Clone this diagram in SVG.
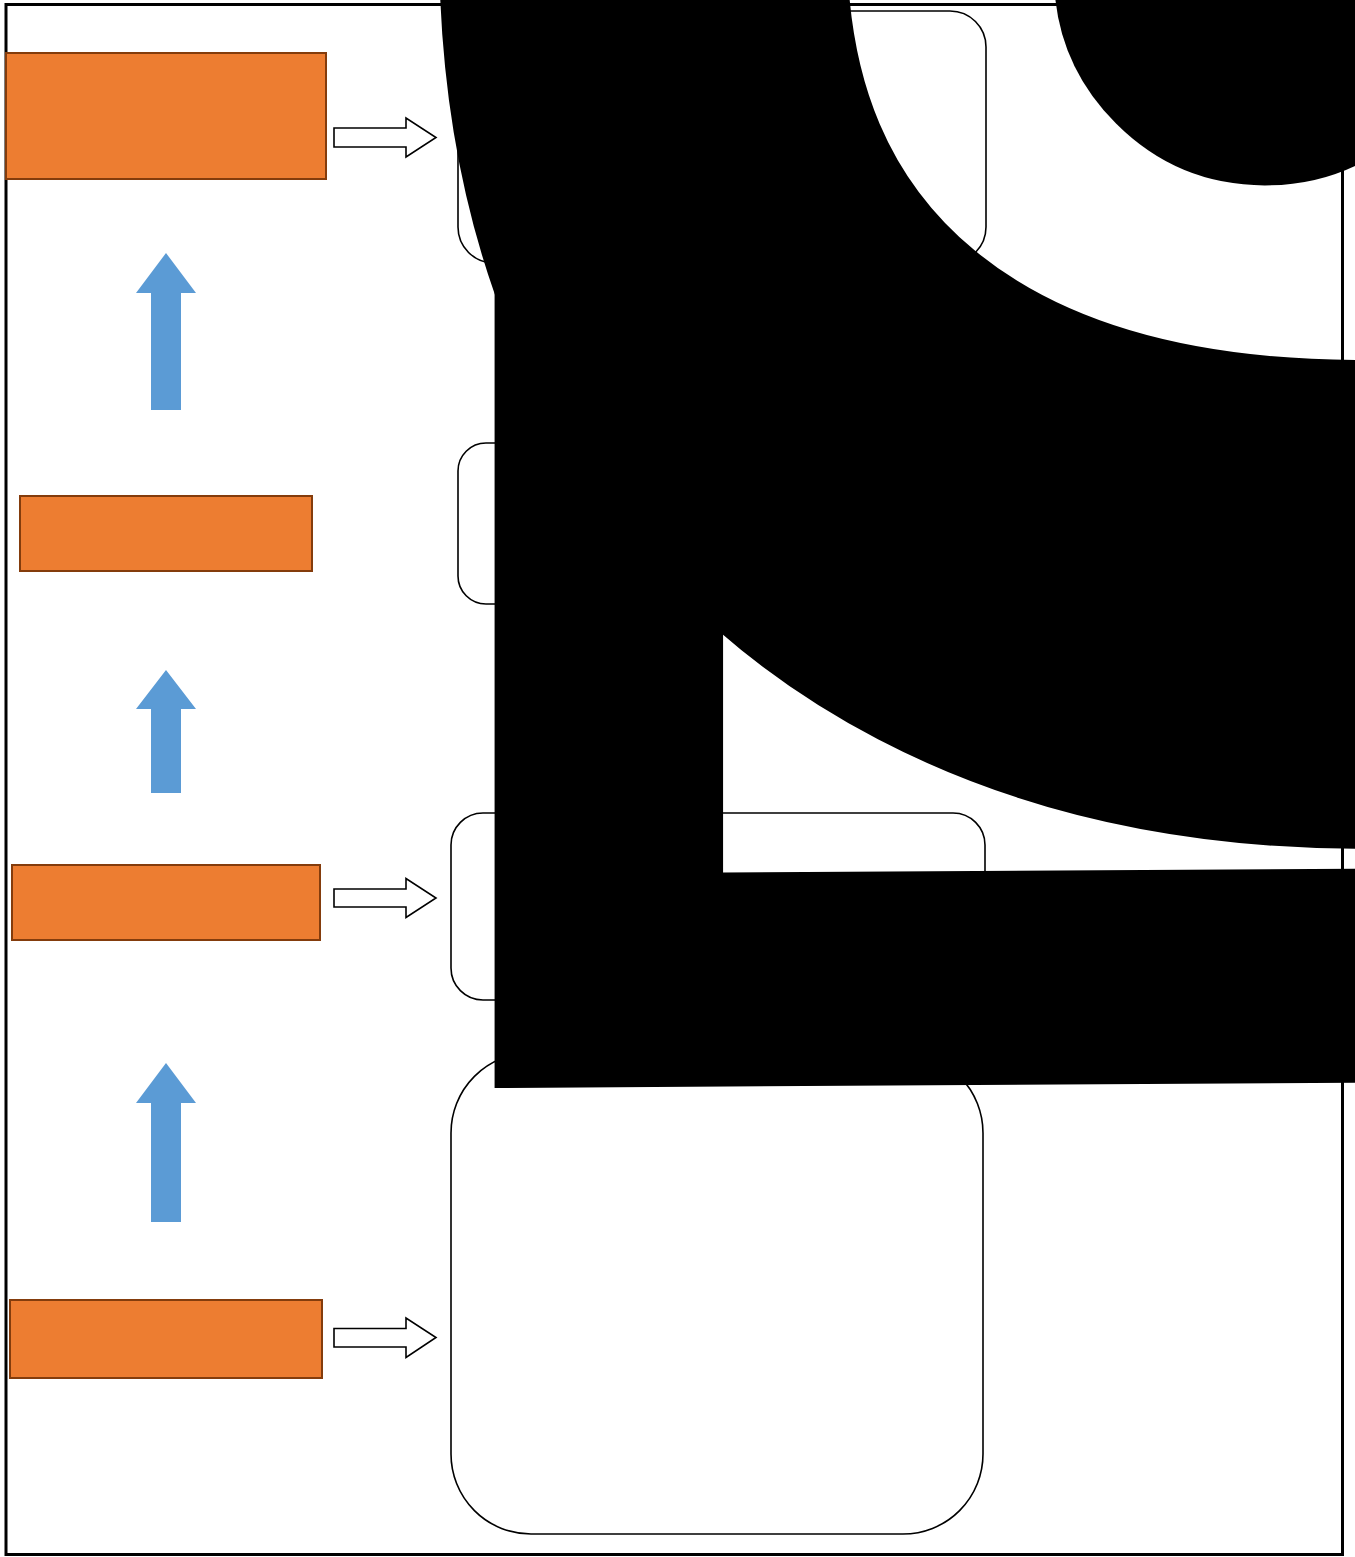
<svg xmlns="http://www.w3.org/2000/svg" width="1355" height="1557" viewBox="0 0 1355 1557">
<style>
.frame{fill:#fff;stroke:#000;stroke-width:3}
.step{fill:#ED7D31;stroke:#843C0C;stroke-width:2}
.panel{fill:#fff;stroke:#000;stroke-width:1.6}
.up{fill:#5B9BD5}
.right{fill:#fff;stroke:#000;stroke-width:1.6}
.big{fill:#000;font-family:"Liberation Sans",Arial,sans-serif}
.ring{fill:#000;stroke:#000;stroke-width:137;font-family:"Liberation Sans",Arial,sans-serif;font-weight:bold}
</style>
<rect width="1355" height="1557" fill="#fff"/>
<rect id="frame" class="frame" x="6" y="4.5" width="1336.5" height="1550"/>
<g id="step1"><rect class="step" x="6" y="53" width="320" height="126"/></g>
<g id="step2"><rect class="step" x="20" y="496" width="292" height="75"/></g>
<g id="step3"><rect class="step" x="12" y="865" width="308" height="75"/></g>
<g id="step4"><rect class="step" x="10" y="1300" width="312" height="78"/></g>
<g id="panel1"><rect class="panel" x="458" y="11" width="528" height="252" rx="36"/></g>
<g id="panel2"><rect class="panel" x="458" y="443" width="527" height="161" rx="28"/></g>
<g id="panel3"><rect class="panel" x="451" y="813" width="534" height="187" rx="32"/></g>
<g id="panel4"><rect class="panel" x="451" y="1053" width="532" height="481" rx="80"/></g>
<g id="connectors">
<polygon class="up" points="166,253 196,293 181,293 181,410 151,410 151,293 136,293"/>
<polygon class="up" points="166,670 196,709 181,709 181,793 151,793 151,709 136,709"/>
<polygon class="up" points="166,1063 196,1103 181,1103 181,1222 151,1222 151,1103 136,1103"/>
<polygon class="right" points="334,128 406,128 406,118 436,137.5 406,157 406,147 334,147"/>
<polygon class="right" points="334,889 406,889 406,878.5 436,898 406,917.5 406,907 334,907"/>
<polygon class="right" points="334,1328.5 406,1328.5 406,1318 436,1337.5 406,1357.5 406,1347 334,1347"/>
</g>
<g id="oversized-label">
<text class="ring" font-size="2393" text-anchor="middle" x="0" y="873" transform="translate(1404,-50) rotate(90)">O</text>
<text class="big" font-size="2450" transform="translate(495,1088) skewY(-0.35) scale(1,1.147)" x="-201.4" y="0">L</text>
<text class="big" font-size="981" x="1265" y="-89" text-anchor="middle" dominant-baseline="central">●</text>
</g>
</svg>
